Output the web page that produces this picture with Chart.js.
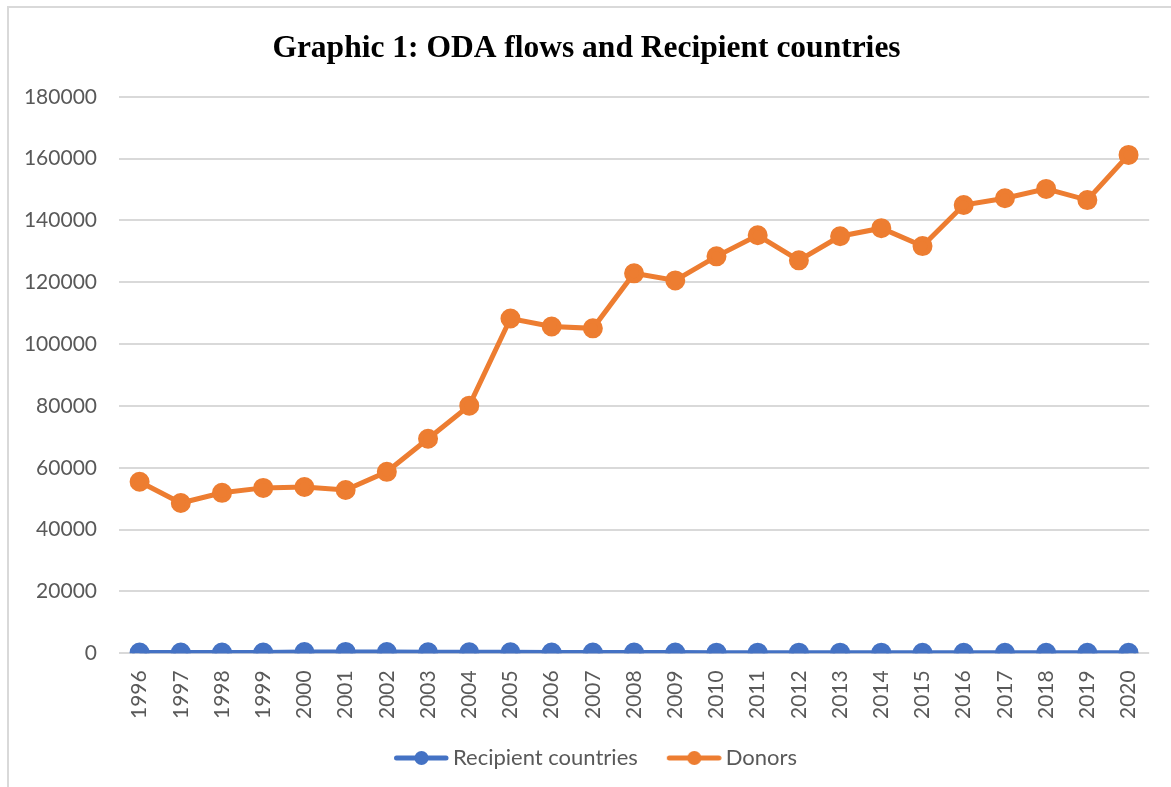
<!DOCTYPE html>
<html>
<head>
<meta charset="utf-8">
<script src="https://cdn.jsdelivr.net/npm/chart.js@4/dist/chart.umd.min.js"></script>
<style>
  html, body { margin: 0; padding: 0; background: #fff; }
  #frame {
    position: absolute; left: 7px; top: 6px; width: 1180px; height: 800px;
    border: 2px solid #d9d9d9; box-sizing: border-box;
  }
  #wrap { position: absolute; left: 0; top: 0; width: 1171px; height: 787px; }
</style>
</head>
<body>
<div id="frame"></div>
<div id="wrap"><canvas id="odaChart"></canvas></div>
<script>
const years = ["1996", "1997", "1998", "1999", "2000", "2001", "2002", "2003", "2004",
    "2005", "2006", "2007", "2008", "2009", "2010", "2011", "2012", "2013", "2014",
    "2015", "2016", "2017", "2018", "2019", "2020"];

const recipientCountries = [250, 220, 240, 260, 420, 440, 400, 350, 320, 300, 260, 240,
    230, 220, 210, 200, 200, 190, 190, 180, 180, 170, 170, 160, 160];

const donors = [55500, 48600, 51900, 53500, 53800, 52800, 58700, 69400, 80100,
    108300, 105700, 105100, 122900, 120600, 128400, 135200, 127100, 134900, 137500,
    131700, 145000, 147200, 150200, 146600, 161200];

const yTicks = [0, 20000, 40000, 60000, 80000, 100000, 120000, 140000, 160000, 180000];

const BLUE = "#4472C4";
const ORANGE = "#ED7D31";
const TEXT_GREY = "#595959";
const LABEL_FONT = "Lato, 'Open Sans', sans-serif";

// legend swatch: a short line with a dot, drawn in the right part of the
// canvas so the empty left part spaces the two legend entries apart
function legendSwatch(color) {
    const c = document.createElement("canvas");
    c.width = 80;
    c.height = 16;
    const g = c.getContext("2d");
    g.strokeStyle = color;
    g.lineWidth = 5;
    g.lineCap = "round";
    g.beginPath();
    g.moveTo(27.5, 8);
    g.lineTo(77, 8);
    g.stroke();
    g.fillStyle = color;
    g.beginPath();
    g.arc(52.5, 8, 7, 0, Math.PI * 2);
    g.fill();
    return c;
}

const ctx = document.getElementById("odaChart").getContext("2d");

new Chart(ctx, {
    type: "line",
    data: {
        labels: years,
        datasets: [
            {
                label: "Recipient countries",
                data: recipientCountries,
                borderColor: BLUE,
                backgroundColor: BLUE,
                borderWidth: 5,
                pointRadius: 7.5,
                pointHoverRadius: 7.5,
                tension: 0,
            },
            {
                label: "Donors",
                data: donors,
                borderColor: ORANGE,
                backgroundColor: ORANGE,
                borderWidth: 5,
                pointRadius: 7.5,
                pointHoverRadius: 7.5,
                tension: 0,
            },
        ],
    },
    options: {
        responsive: true,
        maintainAspectRatio: false,
        animation: false,
        layout: {
            padding: { left: 10, right: 8, top: 0, bottom: 8 },
        },
        plugins: {
            title: {
                display: true,
                text: "Graphic 1: ODA flows and Recipient countries",
                color: "#000",
                font: { family: "'Liberation Serif', 'Times New Roman', serif", size: 31.5, weight: "bold" },
                padding: { top: 30, bottom: 29 },
            },
            legend: {
                position: "bottom",
                labels: {
                    color: TEXT_GREY,
                    font: { family: LABEL_FONT, size: 22 },
                    usePointStyle: true,
                    pointStyleWidth: 66,
                    padding: 11,
                    generateLabels(chart) {
                        return chart.data.datasets.map((ds, i) => ({
                            text: ds.label,
                            fontColor: TEXT_GREY,
                            pointStyle: legendSwatch(ds.borderColor),
                            hidden: false,
                            datasetIndex: i,
                        }));
                    },
                },
            },
            tooltip: { enabled: false },
        },
        scales: {
            x: {
                offset: true,
                grid: { display: false, drawTicks: false },
                border: { display: false },
                ticks: {
                    color: TEXT_GREY,
                    font: { family: LABEL_FONT, size: 21 },
                    minRotation: 90,
                    maxRotation: 90,
                    padding: 17,
                    autoSkip: false,
                },
            },
            y: {
                min: 0,
                max: 180000,
                afterBuildTicks(scale) {
                    scale.ticks = yTicks.map(v => ({ value: v }));
                },
                afterFit(scale) {
                    scale.width = 109;
                },
                grid: { color: "#d9d9d9", lineWidth: 2, drawTicks: false },
                border: { display: false },
                ticks: {
                    color: TEXT_GREY,
                    font: { family: LABEL_FONT, size: 21 },
                    padding: 22,
                    callback: v => String(v),
                },
            },
        },
    },
});
</script>
</body>
</html>
